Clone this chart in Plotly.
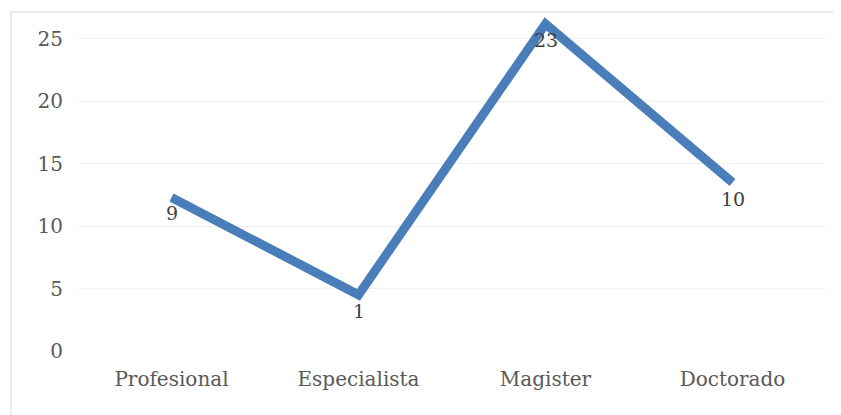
import plotly.graph_objects as go

categories = ["Profesional", "Especialista", "Magister", "Doctorado"]
values = [12.3, 4.5, 26.2, 13.5]
labels = ["9", "1", "23", "10"]
y_ticks = [0, 5, 10, 15, 20, 25]

OFF = 8  # page offset of the figure
W, H = 841 - OFF, 415 - OFF
L, R, T, B = 78 - OFF, 15, 14 - OFF, 64
pw, ph = W - L - R, H - T - B

fig = go.Figure()
fig.add_trace(go.Scatter(
    x=categories, y=values, mode="lines",
    line=dict(color="#4a7ebb", width=9),
    hoverinfo="skip", showlegend=False,
))

annotations = [
    dict(x=c, y=v, text=t, showarrow=False, xanchor="center",
         yanchor="middle", yshift=-16,
         font=dict(family="DejaVu Serif", size=19, color="#404040"))
    for c, v, t in zip(categories, values, labels)
]

fig.update_layout(
    width=W, height=H,
    margin=dict(l=L, r=R, t=T, b=B),
    paper_bgcolor="white", plot_bgcolor="white",
    font=dict(family="DejaVu Serif", size=19, color="#595959"),
    xaxis=dict(range=[-0.5, 3.5], showgrid=False, zeroline=False,
               showline=False, ticks="outside", ticklen=10,
               tickcolor="rgba(0,0,0,0)", tickfont=dict(size=20)),
    yaxis=dict(range=[0, 27], tickvals=y_ticks, showgrid=True,
               gridcolor="#f0f0f0", gridwidth=1, zeroline=False,
               showline=False, ticks="outside", ticklen=10,
               tickcolor="rgba(0,0,0,0)", tickfont=dict(size=20)),
    annotations=annotations,
    shapes=[dict(type="rect", xref="paper", yref="paper",
                 x0=(11 - OFF - L) / pw, x1=(W + 10 - L) / pw,
                 y0=-(H + 10 - (T + ph)) / ph, y1=(T + ph - (12 - OFF)) / ph,
                 line=dict(color="#d9d9d9", width=1), layer="below")],
)

fig.write_html("out.html")
